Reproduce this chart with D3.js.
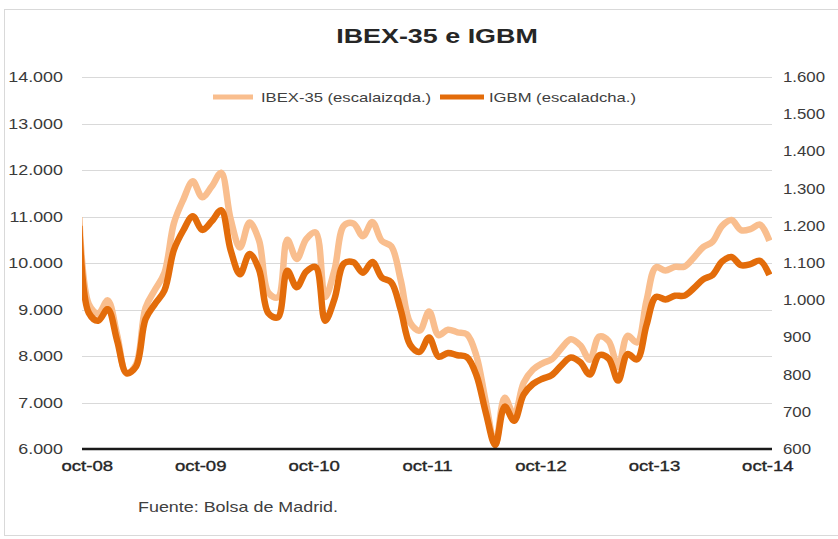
<!DOCTYPE html>
<html><head><meta charset="utf-8">
<script src="https://cdn.jsdelivr.net/npm/d3@7"></script>
<style>
body{margin:0;background:#fff;}
text{font-family:"Liberation Sans",Arial,Helvetica,sans-serif;}
</style></head><body>
<svg id="chart" width="838" height="539"></svg>
<script>
// ---------- DATA ----------
const months = [
  "sep-08","oct-08","nov-08","dic-08",
  "ene-09","feb-09","mar-09","abr-09","may-09","jun-09","jul-09","ago-09","sep-09","oct-09","nov-09","dic-09",
  "ene-10","feb-10","mar-10","abr-10","may-10","jun-10","jul-10","ago-10","sep-10","oct-10","nov-10","dic-10",
  "ene-11","feb-11","mar-11","abr-11","may-11","jun-11","jul-11","ago-11","sep-11","oct-11","nov-11","dic-11",
  "ene-12","feb-12","mar-12","abr-12","may-12","jun-12","jul-12","ago-12","sep-12","oct-12","nov-12","dic-12",
  "ene-13","feb-13","mar-13","abr-13","may-13","jun-13","jul-13","ago-13","sep-13","oct-13","nov-13","dic-13",
  "ene-14","feb-14","mar-14","abr-14","may-14","jun-14","jul-14","ago-14","sep-14","oct-14"
];
const ibex = [
  10987, 9116, 8911, 9196,
  8450, 7621, 7815, 9039, 9424, 9788, 10855, 11365, 11756, 11415, 11643, 11940,
  10948, 10334, 10871, 10492, 9359, 9263, 10500, 10088, 10515, 10657, 9267, 9859,
  10806, 10850, 10577, 10879, 10476, 10360, 9631, 8719, 8547, 8955, 8450, 8566,
  8509, 8466, 8008, 7011, 6090, 7102, 6738, 7421, 7709, 7843, 7935, 8168,
  8362, 8230, 7920, 8419, 8321, 7763, 8433, 8291, 9186, 9908, 9838, 9917,
  9920, 10114, 10341, 10459, 10799, 10924, 10707, 10729, 10826, 10478
];
const igbm = [
  1200, 966, 945, 976,
  891, 804, 822, 949, 990, 1026, 1135, 1188, 1226, 1189, 1212, 1242,
  1135, 1070, 1124, 1083, 965, 954, 1079, 1035, 1077, 1089, 945, 1004,
  1099, 1102, 1074, 1103, 1061, 1048, 974, 880, 861, 900, 848, 858,
  852, 847, 799, 698, 611, 714, 676, 746, 775, 789, 799, 825,
  846, 833, 800, 852, 843, 784, 855, 841, 933, 1009, 1002, 1012,
  1012, 1032, 1056, 1068, 1104, 1116, 1094, 1097, 1106, 1068
];
const leftTicks = [6000, 7000, 8000, 9000, 10000, 11000, 12000, 13000, 14000];
const rightTicks = [600, 700, 800, 900, 1000, 1100, 1200, 1300, 1400, 1500, 1600];
const xTickLabels = ["oct-08", "oct-09", "oct-10", "oct-11", "oct-12", "oct-13", "oct-14"];
const seriesNames = ["IBEX-35 (escalaizqda.)", "IGBM (escaladcha.)"];
const titleText = "IBEX-35 e IGBM";
const sourceText = "Fuente: Bolsa de Madrid.";

// ---------- LAYOUT / STYLE ----------
const colIbex = "#F9BE8E", colIgbm = "#E36C0A";
const plot = {left: 82, right: 772, top: 77, bottom: 449};
const SX = 1.28; // horizontal stretch of the original's text

const svg = d3.select("#chart");
const loc = d3.formatLocale({decimal: ",", thousands: ".", grouping: [3], currency: ["", "€"]});
const fmt = loc.format(",.0f");

const x = d3.scaleLinear().domain([0.28, 73.28]).range([plot.left, plot.right]);
const yL = d3.scaleLinear().domain([6000, 14000]).range([plot.bottom, plot.top]);
const yR = d3.scaleLinear().domain([600, 1600]).range([plot.bottom, plot.top]);

function stext(g, tx, ty, str, opts) {
  const t = g.append("text")
    .attr("transform", `translate(${tx},${ty}) scale(${opts.sx || SX},1)`)
    .attr("text-anchor", opts.anchor || "start")
    .attr("font-size", opts.size || 14)
    .attr("fill", opts.fill || "#404040")
    .text(str);
  if (opts.weight) t.attr("font-weight", opts.weight);
  if (opts.stroke) t.attr("stroke", opts.fill).attr("stroke-width", opts.stroke);
  if (opts.dy) t.attr("dy", opts.dy);
  return t;
}

// border
svg.append("rect").attr("x", 4.5).attr("y", 9.5).attr("width", 840).attr("height", 526)
  .attr("fill", "#fff").attr("stroke", "#d9d9d9").attr("stroke-width", 1);

// gridlines (left axis)
svg.append("g").selectAll("line").data(leftTicks.slice(1)).join("line")
  .attr("x1", plot.left).attr("x2", plot.right)
  .attr("y1", d => Math.round(yL(d)) + 0.5).attr("y2", d => Math.round(yL(d)) + 0.5)
  .attr("stroke", "#d9d9d9").attr("stroke-width", 1);

// left labels
const gl = svg.append("g");
leftTicks.forEach(v => stext(gl, 63, yL(v), fmt(v), {anchor: "end", size: 14, dy: "0.36em", fill: "#3a3a3a"}));
// right labels
const gr = svg.append("g");
rightTicks.forEach(v => stext(gr, 783, yR(v), fmt(v), {anchor: "start", size: 14, dy: "0.36em", fill: "#3a3a3a", sx: 1.2}));

// clip
svg.append("clipPath").attr("id", "pclip").append("rect")
  .attr("x", plot.left).attr("y", plot.top - 20).attr("width", plot.right - plot.left).attr("height", plot.bottom - plot.top + 30);

const idx = months.map((m, i) => i);
const lineL = d3.line().x(i => x(i)).y(i => yL(ibex[i])).curve(d3.curveCatmullRom.alpha(0.5));
const lineR = d3.line().x(i => x(i)).y(i => yR(igbm[i])).curve(d3.curveCatmullRom.alpha(0.5));

const gLines = svg.append("g").attr("clip-path", "url(#pclip)");
gLines.append("path").attr("d", lineL(idx)).attr("fill", "none")
  .attr("stroke", colIbex).attr("stroke-width", 6.5).attr("stroke-linejoin", "round");
gLines.append("path").attr("d", lineR(idx)).attr("fill", "none")
  .attr("stroke", colIgbm).attr("stroke-width", 6.5).attr("stroke-linejoin", "round");

// baseline
svg.append("line").attr("x1", plot.left).attr("x2", plot.right)
  .attr("y1", plot.bottom).attr("y2", plot.bottom)
  .attr("stroke", "#1a1a1a").attr("stroke-width", 2.5);

// x labels
const gx = svg.append("g");
xTickLabels.forEach(lab => {
  const i = months.indexOf(lab);
  stext(gx, x(i) - 1.5, 471, lab, {anchor: "middle", size: 14.5, fill: "#262626", stroke: 0.35});
});

// title
stext(svg, 437, 43, titleText, {anchor: "middle", size: 21, weight: "bold", fill: "#262626"});

// legend
const lg = svg.append("g");
lg.append("line").attr("x1", 213).attr("x2", 253).attr("y1", 97).attr("y2", 97)
  .attr("stroke", colIbex).attr("stroke-width", 5);
stext(lg, 261, 102, seriesNames[0], {size: 13, fill: "#404040"});
lg.append("line").attr("x1", 440).attr("x2", 484).attr("y1", 97).attr("y2", 97)
  .attr("stroke", colIgbm).attr("stroke-width", 5);
stext(lg, 489, 102, seriesNames[1], {size: 13, fill: "#404040"});

// source
stext(svg, 138, 512, sourceText, {size: 14, fill: "#404040"});
</script>
</body></html>
